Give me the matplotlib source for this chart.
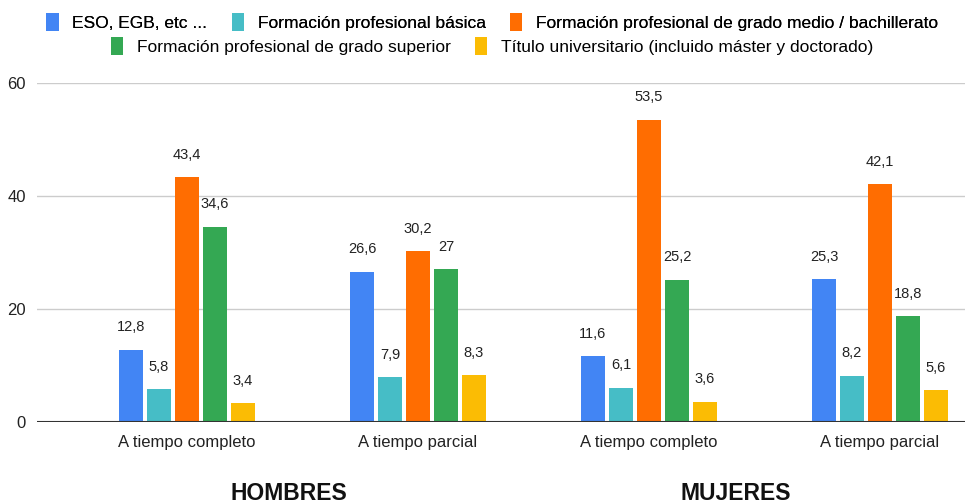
import numpy as np
import matplotlib.pyplot as plt
from matplotlib.patches import Patch

plt.rcParams['font.family'] = ['Liberation Sans', 'DejaVu Sans']

categories = ['A tiempo completo', 'A tiempo parcial', 'A tiempo completo', 'A tiempo parcial']
groups = ['HOMBRES', 'MUJERES']
series_names = ['ESO, EGB, etc ...',
                'Formación profesional básica',
                'Formación profesional de grado medio / bachillerato',
                'Formación profesional de grado superior',
                'Título universitario (incluido máster y doctorado)']
eso = [12.8, 26.6, 11.6, 25.3]
fp_basica = [5.8, 7.9, 6.1, 8.2]
fp_medio = [43.4, 30.2, 53.5, 42.1]
fp_superior = [34.6, 27.0, 25.2, 18.8]
universitario = [3.4, 8.3, 3.6, 5.6]
series = [eso, fp_basica, fp_medio, fp_superior, universitario]
colors = ['#4285F4', '#46BDC6', '#FF6D01', '#34A853', '#FBBC04']

def fmt(v):
    s = ('%.1f' % v).replace('.', ',')
    if s.endswith(',0'):
        s = s[:-2]
    return s

fig = plt.figure(figsize=(9.71, 5.04), dpi=100)
ax = fig.add_axes([37/971, 1-422/504, (965-37)/971, (422-83)/504])

x = np.arange(len(categories))
step = 28/231.
width = 24/231.
for i, (vals, c) in enumerate(zip(series, colors)):
    pos = x + (i-2)*step
    ax.bar(pos, vals, width, color=c, zorder=3)
    for p, v in zip(pos, vals):
        ax.annotate(fmt(v), (p, v), xytext=(0, 11), textcoords='offset points',
                    ha='center', va='bottom', fontsize=10.5, color='#222222')

ax.set_xlim(-0.649, 3.368)
ax.set_ylim(0, 60)
ax.set_yticks([0, 20, 40, 60])
ax.grid(axis='y', color='#cccccc', linewidth=1, zorder=0)
ax.axhline(0, color='#333333', linewidth=1.5, zorder=4)
for s in ax.spines.values():
    s.set_visible(False)
ax.tick_params(length=0, labelsize=12, colors='#222222')
ax.tick_params(axis='y', pad=8)
ax.tick_params(axis='x', pad=9)
ax.set_xticks(x)
ax.set_xticklabels(categories)

for gi, g in enumerate(groups):
    fig.text((289 if gi == 0 else 736)/971, 1-494/504, g, ha='center', va='center',
             fontsize=16.5, fontweight='bold', color='#111111')

handles = [Patch(facecolor=c, edgecolor='none') for c in colors]
leg1 = fig.legend(handles[:3], series_names[:3], loc='center', bbox_to_anchor=(0.507, 1-22/504),
                  ncol=3, frameon=False, fontsize=12.5, handlelength=0.7, handleheight=1.2,
                  columnspacing=1.4, handletextpad=0.8)
fig.add_artist(leg1)
fig.legend(handles[3:], series_names[3:], loc='center', bbox_to_anchor=(0.507, 1-46/504),
           ncol=2, frameon=False, fontsize=12.5, handlelength=0.7, handleheight=1.2,
           columnspacing=1.4, handletextpad=0.8)

fig.savefig('out.png', dpi=100)
